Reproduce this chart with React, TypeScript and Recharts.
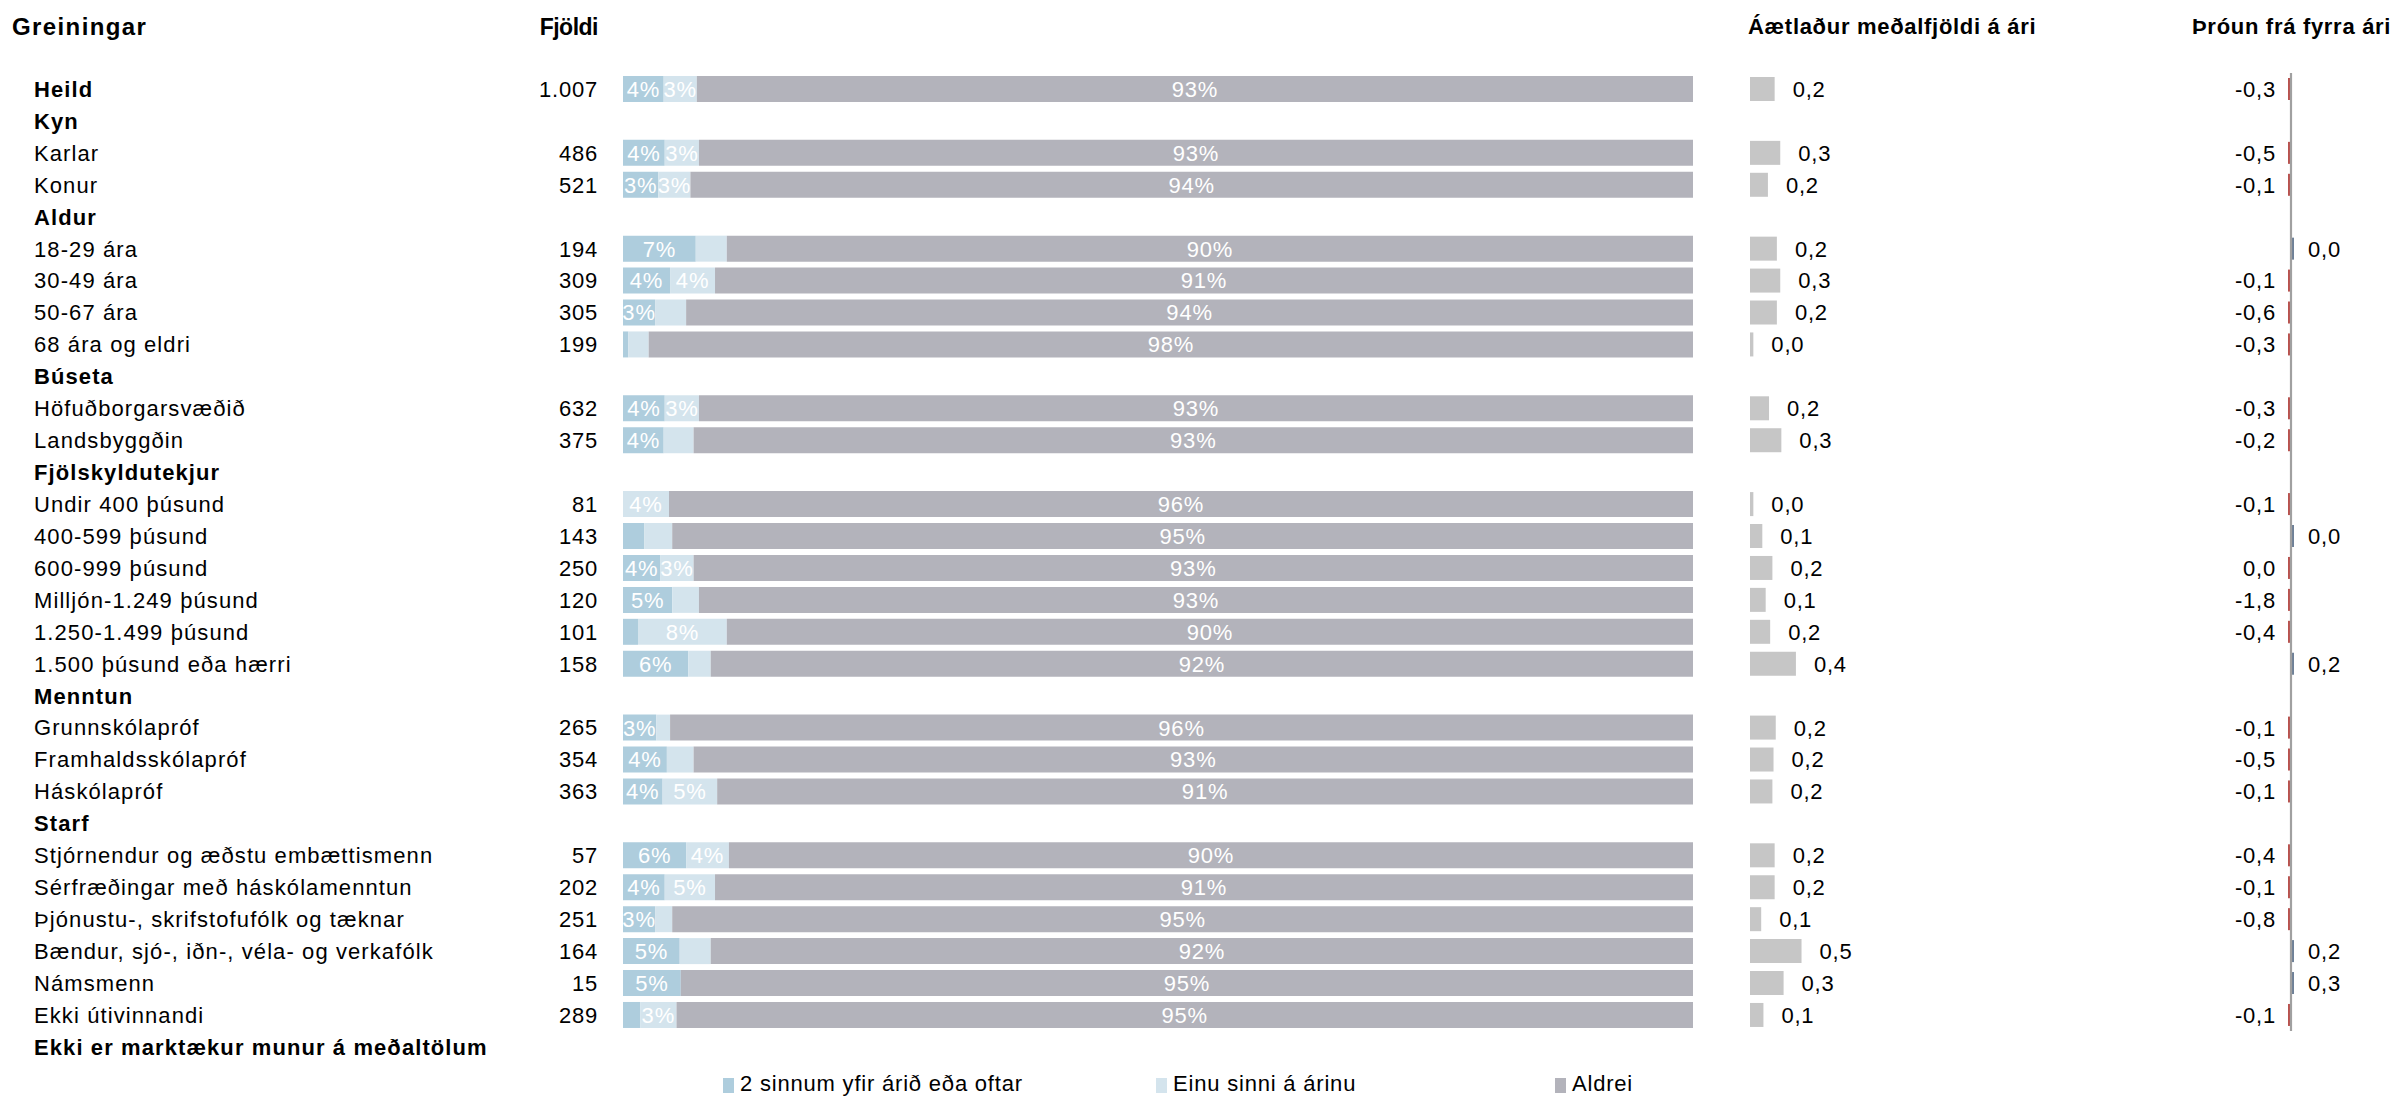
import React from 'react';
import { BarChart, Bar, XAxis, YAxis, LabelList, Cell, ReferenceLine } from 'recharts';

// Row labels (group headers are bold and carry no values)
const rowNames = [
  'Heild', 'Kyn', 'Karlar', 'Konur', 'Aldur', '18-29 ára', '30-49 ára', '50-67 ára', '68 ára og eldri',
  'Búseta', 'Höfuðborgarsvæðið', 'Landsbyggðin', 'Fjölskyldutekjur', 'Undir 400 þúsund', '400-599 þúsund',
  '600-999 þúsund', 'Milljón-1.249 þúsund', '1.250-1.499 þúsund', '1.500 þúsund eða hærri', 'Menntun',
  'Grunnskólapróf', 'Framhaldsskólapróf', 'Háskólapróf', 'Starf', 'Stjórnendur og æðstu embættismenn',
  'Sérfræðingar með háskólamenntun', 'Þjónustu-, skrifstofufólk og tæknar', 'Bændur, sjó-, iðn-, véla- og verkafólk',
  'Námsmenn', 'Ekki útivinnandi', 'Ekki er marktækur munur á meðaltölum',
];
const boldRows = ['Heild', 'Kyn', 'Aldur', 'Búseta', 'Fjölskyldutekjur', 'Menntun', 'Starf', 'Ekki er marktækur munur á meðaltölum'];

const seriesNames = ['2 sinnum yfir árið eða oftar', 'Einu sinni á árinu', 'Aldrei'];

const counts = [1007, null, 486, 521, null, 194, 309, 305, 199, null, 632, 375, null, 81, 143, 250, 120, 101, 158, null, 265, 354, 363, null, 57, 202, 251, 164, 15, 289, null];

// % answering, per row
const often = [3.8, null, 3.9, 3.3, null, 6.8, 4.4, 3.0, 0.5, null, 3.9, 3.8, null, 0, 2.0, 3.5, 4.6, 1.4, 6.1, null, 3.1, 4.1, 3.7, null, 5.9, 3.9, 3.0, 5.3, 5.4, 1.6, null];
const once = [3.1, null, 3.2, 3.0, null, 2.9, 4.2, 2.9, 1.9, null, 3.2, 2.8, null, 4.3, 2.6, 3.1, 2.5, 8.3, 2.1, null, 1.3, 2.5, 5.1, null, 4.0, 4.7, 1.6, 2.9, 0, 3.4, null];
const never = [93.1, null, 92.9, 93.7, null, 90.3, 91.4, 94.1, 97.6, null, 92.9, 93.4, null, 95.7, 95.4, 93.4, 92.9, 90.3, 91.8, null, 95.6, 93.4, 91.2, null, 90.1, 91.4, 95.4, 91.8, 94.6, 95.0, null];

// Áætlaður meðalfjöldi á ári
const mean = [0.22, null, 0.27, 0.16, null, 0.24, 0.27, 0.24, 0.03, null, 0.17, 0.28, null, 0.03, 0.11, 0.2, 0.14, 0.18, 0.41, null, 0.23, 0.21, 0.2, null, 0.22, 0.22, 0.1, 0.46, 0.3, 0.12, null];

// Þróun frá fyrra ári
const change = [-0.3, null, -0.5, -0.1, null, 0.02, -0.1, -0.6, -0.3, null, -0.3, -0.2, null, -0.1, 0.02, -0.02, -1.8, -0.4, 0.2, null, -0.1, -0.5, -0.1, null, -0.4, -0.1, -0.8, 0.2, 0.3, -0.1];

const FONT = "'Liberation Sans', Arial, Helvetica, sans-serif";
const FS = 22;
const ROW_TOP = 73;
const ROW_H = 31.93;
const COLORS = ['#AECDDD', '#D4E4ED', '#B3B3BB'];
const RED = '#B9524E';
const BLUE = '#6E8097';
const AXIS_GREY = '#A0A0A0';

const data = rowNames.map((name, i) => ({
  name,
  often: often[i],
  once: once[i],
  never: never[i],
  mean: mean[i],
}));
const changeData = change.map((v, i) => ({ name: rowNames[i], change: v }));

const fmtCount = (n: number) => (n >= 1000 ? `${Math.floor(n / 1000)}.${String(n % 1000).padStart(3, '0')}` : String(n));
const fmtDec = (v: number) => (Math.abs(v) < 0.05 ? '0,0' : v.toFixed(1).replace('.', ','));

function box(props: any) {
  const vb = props.viewBox || {};
  const x = props.x ?? vb.x;
  const y = props.y ?? vb.y;
  const width = props.width ?? vb.width;
  const height = props.height ?? vb.height;
  return { x: Number(x), y: Number(y), width: Number(width), height: Number(height) };
}

function RowTick(props: any) {
  const { y, payload } = props;
  const name = payload.value;
  const i = rowNames.indexOf(name);
  const bold = boldRows.includes(name);
  const c = counts[i];
  return (
    <g>
      <text x={34} y={y} dy="0.36em" fontSize={FS} fontFamily={FONT} fontWeight={bold ? 700 : 400} letterSpacing={1.1} fill="#000">
        {name}
      </text>
      {c != null && (
        <text x={598} y={y} dy="0.36em" textAnchor="end" fontSize={FS} fontFamily={FONT} letterSpacing={0.8} fill="#000">
          {fmtCount(c)}
        </text>
      )}
    </g>
  );
}

const renderPct = (props: any) => {
  const v = props.value;
  if (v == null || v < 3) return null;
  const { x, y, width, height } = box(props);
  return (
    <text x={x + width / 2} y={y + height / 2} dy="0.36em" textAnchor="middle" fontSize={FS} fontFamily={FONT} letterSpacing={0.8} fill="#fff">
      {`${Math.round(v)}%`}
    </text>
  );
};

const renderMean = (props: any) => {
  const v = props.value;
  if (v == null) return null;
  const { x, y, width, height } = box(props);
  return (
    <text x={x + width + 18} y={y + height / 2} dy="0.36em" fontSize={FS} fontFamily={FONT} letterSpacing={0.8} fill="#000">
      {fmtDec(v)}
    </text>
  );
};

const renderChange = (props: any) => {
  const v = props.value;
  if (v == null) return null;
  const { x, y, width, height } = box(props);
  const left = Math.min(x, x + width);
  const right = Math.max(x, x + width);
  const neg = v < 0;
  return (
    <text
      x={neg ? left - 12 : right + 14}
      y={y + height / 2}
      dy="0.36em"
      textAnchor={neg ? 'end' : 'start'}
      fontSize={FS}
      fontFamily={FONT}
      letterSpacing={0.8}
      fill="#000"
    >
      {fmtDec(v)}
    </text>
  );
};

const headerStyle: React.CSSProperties = {
  position: 'absolute',
  fontFamily: FONT,
  fontWeight: 700,
  fontSize: FS,
  letterSpacing: 0.7,
  lineHeight: '26px',
  top: 14,
  whiteSpace: 'nowrap',
};

export default function App() {
  return (
    <div style={{ position: 'relative', width: 2400, height: 1098, background: '#fff', overflow: 'hidden' }}>
      <style>{'body{margin:0}'}</style>

      {/* Column headers */}
      <div style={{ ...headerStyle, left: 12, fontSize: 24, letterSpacing: 1.4 }}>Greiningar</div>
      <div style={{ ...headerStyle, right: 2400 - 598, fontSize: 23, letterSpacing: -0.5 }}>Fjöldi</div>
      <div style={{ ...headerStyle, left: 1748 }}>Áætlaður meðalfjöldi á ári</div>
      <div style={{ ...headerStyle, left: 2192 }}>Þróun frá fyrra ári</div>

      {/* Stacked percentage bars with row labels */}
      <div style={{ position: 'absolute', left: 0, top: ROW_TOP }}>
        <BarChart width={1700} height={31 * ROW_H} layout="vertical" data={data} margin={{ top: 0, right: 7, bottom: 0, left: 0 }} barSize={26}>
          <XAxis type="number" domain={[0, 100]} hide />
          <YAxis type="category" dataKey="name" width={623} axisLine={false} tickLine={false} interval={0} tick={(p: any) => <RowTick {...p} />} />
          <Bar dataKey="often" stackId="a" fill={COLORS[0]} isAnimationActive={false}>
            <LabelList dataKey="often" content={renderPct} />
          </Bar>
          <Bar dataKey="once" stackId="a" fill={COLORS[1]} isAnimationActive={false}>
            <LabelList dataKey="once" content={renderPct} />
          </Bar>
          <Bar dataKey="never" stackId="a" fill={COLORS[2]} isAnimationActive={false}>
            <LabelList dataKey="never" content={renderPct} />
          </Bar>
        </BarChart>
      </div>

      {/* Estimated yearly mean */}
      <div style={{ position: 'absolute', left: 1750, top: ROW_TOP }}>
        <BarChart width={400} height={31 * ROW_H} layout="vertical" data={data} margin={{ top: 0, right: 8, bottom: 0, left: 0 }} barSize={24}>
          <XAxis type="number" domain={[0, 3.5]} hide />
          <YAxis type="category" dataKey="name" hide />
          <Bar dataKey="mean" fill="#C6C6C6" isAnimationActive={false}>
            <LabelList dataKey="mean" content={renderMean} />
          </Bar>
        </BarChart>
      </div>

      {/* Change from previous year */}
      <div style={{ position: 'absolute', left: 2191, top: ROW_TOP }}>
        <BarChart width={200} height={30 * ROW_H} layout="vertical" data={changeData} margin={{ top: 0, right: 0, bottom: 0, left: 0 }} barSize={22}>
          <XAxis type="number" domain={[-100, 100]} hide />
          <YAxis type="category" dataKey="name" hide />
          <ReferenceLine x={0} stroke={AXIS_GREY} strokeWidth={2.2} ifOverflow="visible" />
          <Bar dataKey="change" minPointSize={(v: any) => (v == null ? 0 : 3)} isAnimationActive={false}>
            {changeData.map((d, i) => (
              <Cell key={i} fill={d.change != null && d.change < 0 ? RED : BLUE} />
            ))}
            <LabelList dataKey="change" content={renderChange} />
          </Bar>
        </BarChart>
      </div>

      {/* Legend */}
      {seriesNames.map((s, i) => {
        const left = [723, 1156, 1555][i];
        return (
          <div key={s} style={{ position: 'absolute', left, top: 1071, display: 'flex', alignItems: 'center', fontFamily: FONT, fontSize: FS, letterSpacing: 0.8, lineHeight: '26px' }}>
            <span style={{ display: 'inline-block', width: 11, height: 15, background: COLORS[i], marginRight: 6, marginTop: 2 }} />
            <span>{s}</span>
          </div>
        );
      })}
    </div>
  );
}
